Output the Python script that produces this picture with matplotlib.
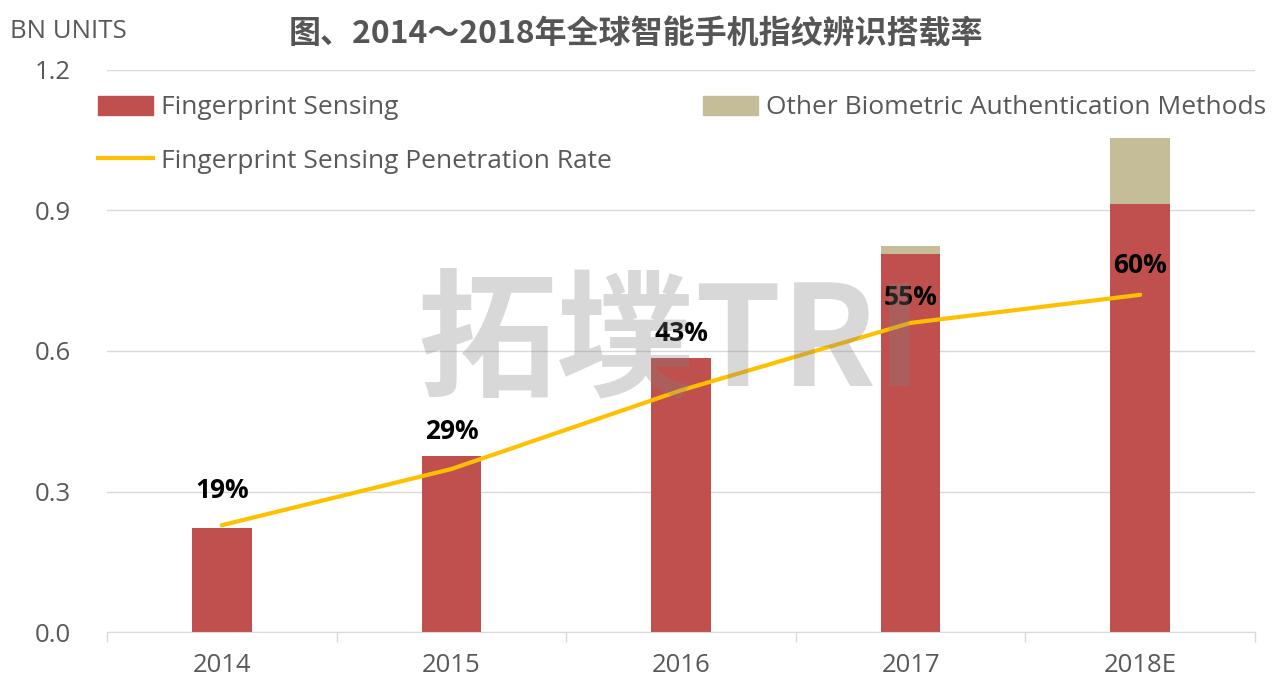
import matplotlib.pyplot as plt
import numpy as np
from matplotlib.patches import Patch
from matplotlib.lines import Line2D

plt.rcParams['font.family'] = ['Open Sans', 'Noto Sans CJK SC', 'DejaVu Sans']

# data
years = ['2014', '2015', '2016', '2017', '2018E']
fingerprint = [0.222, 0.376, 0.585, 0.807, 0.914]
other_bio = [0.0, 0.0, 0.0, 0.017, 0.141]
penetration = [0.19, 0.29, 0.43, 0.55, 0.60]
rate_labels = ['19%', '29%', '43%', '55%', '60%']
label_dy = [35, 38, 57, 25, 29]  # label offsets above the line, px

red = '#C0504D'
beige = '#C4BD97'
gold = '#FFC000'
txt = '#595959'

fig = plt.figure(figsize=(12.87, 6.82), dpi=100)
ax = fig.add_axes([107 / 1287, 1 - 632 / 682, 1148 / 1287, 562 / 682])
x = np.arange(len(years))

ax.bar(x, fingerprint, width=0.26, color=red, zorder=2)
ax.bar(x, other_bio, width=0.26, bottom=fingerprint, color=beige, zorder=2)

ax.set_xlim(-0.5, 4.5)
ax.set_ylim(0, 1.2)
ax.set_yticks([0, 0.3, 0.6, 0.9, 1.2])
ax.set_yticklabels(['0.0', '0.3', '0.6', '0.9', '1.2'])
ax.set_xticks(x)
ax.set_xticklabels(years)
ax.set_xticks(np.arange(-0.5, 5, 1), minor=True)
ax.tick_params(axis='x', which='major', length=0, pad=15, labelsize=18.5, labelcolor=txt)
ax.tick_params(axis='x', which='minor', length=7, color='#D9D9D9', width=1)
ax.tick_params(axis='y', length=0, pad=26, labelsize=18.5, labelcolor=txt)
ax.grid(axis='y', color='#D9D9D9', linewidth=1, zorder=0)
for s in ['top', 'right', 'left']:
    ax.spines[s].set_visible(False)
ax.spines['bottom'].set_color('#D9D9D9')

# penetration rate on a hidden second axis
ax2 = ax.twinx()
ax2.set_ylim(0, 1.0)
ax2.axis('off')
ax2.plot(x, penetration, color=gold, linewidth=3, solid_capstyle='round', zorder=3)
for i, lab in enumerate(rate_labels):
    ax2.annotate(lab, (x[i], penetration[i]), xytext=(0, label_dy[i] * 0.72),
                 textcoords='offset points', ha='center', va='center',
                 fontsize=19, fontweight='bold', color='black')

# watermark
fig.text(670 / 1287, 1 - 345 / 682, '拓墣TRI', fontsize=100, fontweight='bold',
         color='#808080', alpha=0.3, ha='center', va='center',
         family=['Noto Sans CJK SC', 'DejaVu Sans'], zorder=10)

fig.text(10 / 1287, 1 - 31 / 682, 'BN UNITS', fontsize=18.5, color=txt, va='center')
fig.text(636 / 1287, 1 - 34 / 682, '图、2014～2018年全球智能手机指纹辨识搭载率', fontsize=23,
         fontweight='bold', color='#555555', ha='center', va='center',
         family=['Noto Sans CJK SC', 'DejaVu Sans'])

leg_kw = dict(frameon=False, loc='center left', borderpad=0, borderaxespad=0,
              fontsize=19, labelcolor=txt, handletextpad=0.3, handlelength=2.1)
l1 = fig.legend(handles=[Patch(color=red, label='Fingerprint Sensing')],
                bbox_to_anchor=(98 / 1287, 1 - 108 / 682), **leg_kw)
l2 = fig.legend(handles=[Patch(color=beige, label='Other Biometric Authentication Methods')],
                bbox_to_anchor=(703 / 1287, 1 - 108 / 682), **leg_kw)
l3 = fig.legend(handles=[Line2D([], [], color=gold, linewidth=3,
                                label='Fingerprint Sensing Penetration Rate')],
                bbox_to_anchor=(98 / 1287, 1 - 161 / 682), **leg_kw)

fig.savefig('out.png', dpi=100)
